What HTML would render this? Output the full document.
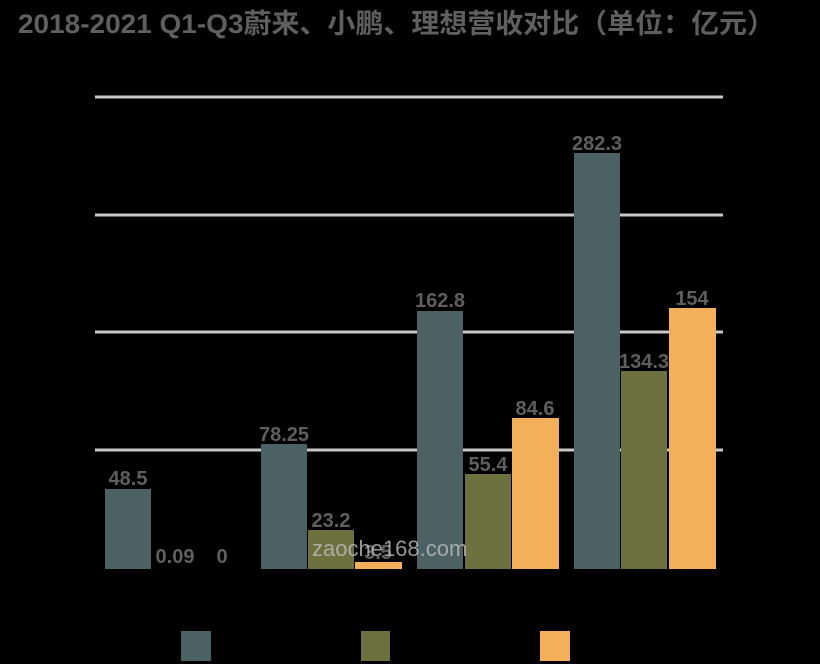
<!DOCTYPE html>
<html><head><meta charset="utf-8"><style>
html,body{margin:0;padding:0;background:#000;}
svg{display:block}
text{font-family:"Liberation Sans","Noto Sans CJK SC",sans-serif;font-weight:bold;fill:#5f5f5f;}
</style></head><body>
<svg width="820" height="664" viewBox="0 0 820 664">
<rect width="820" height="664" fill="#000"/>
<text x="18" y="33" font-size="27" fill="#626262" textLength="757" lengthAdjust="spacingAndGlyphs">2018-2021 Q1-Q3蔚来、小鹏、理想营收对比（单位：亿元）</text>
<g stroke="#c8c8c8" stroke-width="3">
<line x1="95" y1="97" x2="723" y2="97"/>
<line x1="95" y1="215" x2="723" y2="215"/>
<line x1="95" y1="332" x2="723" y2="332"/>
<line x1="95" y1="450" x2="723" y2="450"/>
</g>
<g fill="#4c6163">
<rect x="105" y="489" width="46" height="80"/>
<rect x="261" y="444" width="46" height="125"/>
<rect x="417" y="311" width="46" height="258"/>
<rect x="574" y="153" width="46" height="416"/>
</g>
<g fill="#6c713f">
<rect x="308" y="530" width="46" height="39"/>
<rect x="465" y="474" width="46" height="95"/>
<rect x="621" y="371" width="46" height="198"/>
</g>
<g fill="#f2b05a">
<rect x="355" y="562" width="47" height="7"/>
<rect x="512" y="418" width="47" height="151"/>
<rect x="669" y="308" width="47" height="261"/>
</g>
<g font-size="20" text-anchor="middle">
<text x="128" y="485">48.5</text>
<text x="175" y="563">0.09</text>
<text x="222" y="563">0</text>
<text x="284" y="441">78.25</text>
<text x="331" y="527">23.2</text>
<text x="378" y="559">3.5</text>
<text x="440" y="307">162.8</text>
<text x="488" y="471">55.4</text>
<text x="535" y="415">84.6</text>
<text x="597" y="150">282.3</text>
<text x="644" y="368">134.3</text>
<text x="692" y="305">154</text>
</g>
<text x="312" y="556" font-size="22" style="font-weight:normal;fill:#bdbdbd;opacity:0.8">zaoche168.com</text>
<rect x="181" y="631" width="30" height="30" fill="#4c6163"/>
<rect x="361" y="631" width="29" height="30" fill="#6c713f"/>
<rect x="540" y="631" width="30" height="30" fill="#f2b05a"/>
</svg>
</body></html>
